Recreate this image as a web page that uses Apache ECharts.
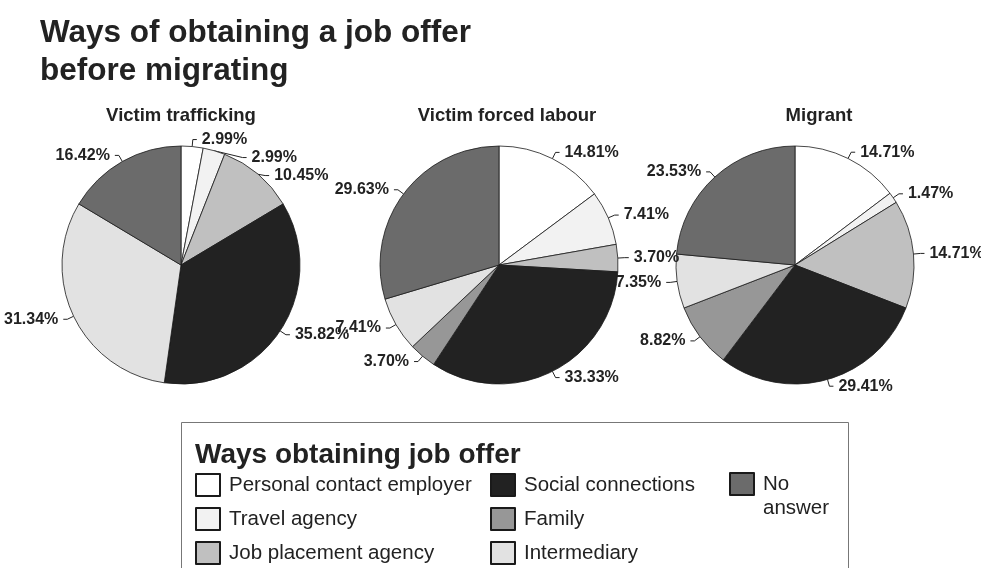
<!DOCTYPE html>
<html>
<head>
<meta charset="utf-8">
<script src="https://cdn.jsdelivr.net/npm/echarts@6/dist/echarts.min.js"></script>
<style>
  html, body { margin: 0; padding: 0; background: #fff; }
  #chart { width: 981px; height: 568px; }
</style>
</head>
<body>
<div id="chart"></div>
<script>
// Categories, in the clockwise order they are drawn from 12 o'clock
const categories = [
  'Personal contact employer',
  'Travel agency',
  'Job placement agency',
  'Social connections',
  'Family',
  'Intermediary',
  'No answer'
];
const groups = ['Victim trafficking', 'Victim forced labour', 'Migrant'];

// Shares (%) for each group
const victimTrafficking = [2.99, 2.99, 10.45, 35.82, 0, 31.34, 16.42];
const victimForcedLabour = [14.81, 7.41, 3.70, 33.33, 3.70, 7.41, 29.63];
const migrant = [14.71, 1.47, 14.71, 29.41, 8.82, 7.35, 23.53];

const sliceColors = ['#ffffff', '#f2f2f2', '#c0c0c0', '#222222', '#979797', '#e2e2e2', '#6b6b6b'];

const groupValues = [victimTrafficking, victimForcedLabour, migrant];
const centersX = [181, 499, 795];
const titleX = [181, 507, 819];
const FONT = '"Liberation Sans", Arial, sans-serif';

function pieSeries(values, i) {
  return {
    type: 'pie',
    name: groups[i],
    center: [centersX[i], 265],
    radius: 119,
    startAngle: 90,
    clockwise: true,
    silent: true,
    animation: false,
    // only the first pie has neighbouring thin slices whose labels need spreading
    avoidLabelOverlap: i === 0,
    itemStyle: { borderColor: '#1a1a1a', borderWidth: 0.8 },
    label: {
      show: true,
      position: 'outside',
      overflow: 'none',
      bleedMargin: 0,
      color: '#222',
      fontFamily: FONT,
      fontWeight: 'bold',
      fontSize: 16,
      formatter: p => p.value.toFixed(2) + '%'
    },
    labelLine: {
      show: true,
      length: 7,
      length2: 4,
      lineStyle: { color: '#222', width: 1 }
    },
    labelLayout: { hideOverlap: false },
    data: categories.map((name, k) => {
      const item = { name: name, value: values[k] };
      if (values[k] === 0) {
        item.label = { show: false };
        item.labelLine = { show: false };
      }
      return item;
    })
  };
}

const legendText = { fontFamily: FONT, fontSize: 20.5, color: '#222', padding: [0, 0, 0, 4] };
const legendBase = {
  orient: 'vertical',
  top: 473,
  height: 140,
  padding: 0,
  itemWidth: 24,
  itemHeight: 22,
  itemGap: 10,
  icon: 'rect',
  selectedMode: false,
  textStyle: legendText
};

const chart = echarts.init(document.getElementById('chart'), null, { renderer: 'canvas' });
chart.setOption({
  animation: false,
  color: sliceColors,
  title: [
    {
      text: 'Ways of obtaining a job offer\nbefore migrating',
      left: 40, top: 14, padding: 0,
      textStyle: { fontFamily: FONT, fontWeight: 'bold', fontSize: 31.5, lineHeight: 38, color: '#222' }
    },
    ...groups.map((g, i) => ({
      text: g,
      left: titleX[i], top: 106, padding: 0,
      textAlign: 'center',
      textStyle: { fontFamily: FONT, fontWeight: 'bold', fontSize: 18.5, color: '#222' }
    })),
    {
      text: 'Ways obtaining job offer',
      left: 195, top: 441, padding: 0,
      textStyle: { fontFamily: FONT, fontWeight: 'bold', fontSize: 28, color: '#222' }
    }
  ],
  graphic: [
    {
      type: 'rect',
      z: -1,
      shape: { x: 181.5, y: 422.5, width: 667, height: 160 },
      style: { fill: '#fff', stroke: '#777', lineWidth: 1 }
    }
  ],
  legend: [
    Object.assign({}, legendBase, { left: 195, data: categories.slice(0, 3) }),
    Object.assign({}, legendBase, { left: 490, data: categories.slice(3, 6) }),
    Object.assign({}, legendBase, {
      left: 729,
      top: 448,
      data: categories.slice(6),
      formatter: n => '\n' + n.replace(' ', '\n'),
      textStyle: Object.assign({}, legendText, { lineHeight: 24 })
    })
  ],
  series: groupValues.map(pieSeries)
});
</script>
</body>
</html>
